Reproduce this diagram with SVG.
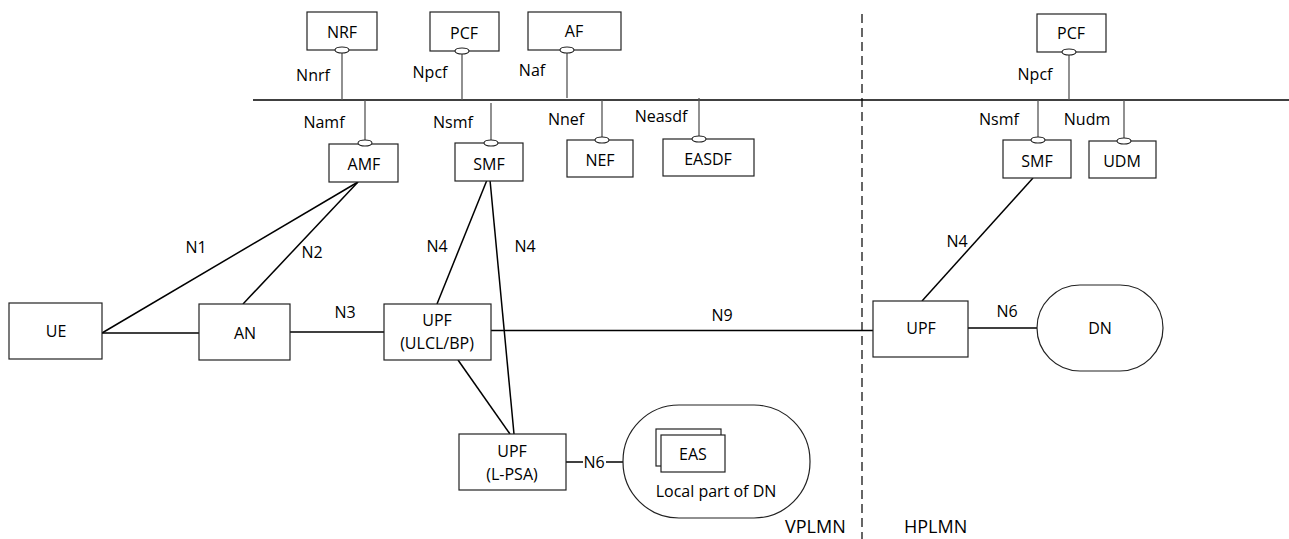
<svg xmlns="http://www.w3.org/2000/svg" width="1289" height="539" viewBox="0 0 1289 539">
<style>
text{font-family:"Open Sans","Liberation Sans",sans-serif;font-size:16px;fill:#000;text-anchor:middle}
.box{fill:#fff;stroke:#222;stroke-width:1.2}
.ln{stroke:#000;stroke-width:1.5;fill:none}
.stub{stroke:#555;stroke-width:1.3;fill:none}
.if{fill:#fff;stroke:#222;stroke-width:1.1}
.plmn{font-size:18px;text-anchor:start}
</style>
<rect width="1289" height="539" fill="#fff"/>
<g id="connectors">
<line class="ln" x1="253" y1="100" x2="1289" y2="100"/>
<line x1="862" y1="14" x2="862" y2="539" stroke="#000" stroke-width="1.2" stroke-dasharray="9 5"/>
<line class="stub" x1="342" y1="53" x2="342" y2="100"/>
<line class="stub" x1="462" y1="54" x2="462" y2="100"/>
<line class="stub" x1="567" y1="53" x2="567" y2="98"/>
<line class="stub" x1="365" y1="100" x2="365" y2="141"/>
<line class="stub" x1="491" y1="103" x2="491" y2="140"/>
<line class="stub" x1="602" y1="100" x2="602" y2="137"/>
<line class="stub" x1="699" y1="98" x2="699" y2="136"/>
<line class="stub" x1="1069" y1="55" x2="1069" y2="100"/>
<line class="stub" x1="1038" y1="100" x2="1038" y2="137"/>
<line class="stub" x1="1124" y1="100" x2="1124" y2="138"/>
<line class="ln" x1="102" y1="333" x2="199" y2="333"/>
<line class="ln" x1="102" y1="333" x2="358" y2="182"/>
<line class="ln" x1="243" y1="304" x2="358" y2="182"/>
<line class="ln" x1="290" y1="332" x2="384" y2="332"/>
<line class="ln" x1="487" y1="180" x2="437" y2="304"/>
<line class="ln" x1="490" y1="180" x2="514" y2="434"/>
<line class="ln" x1="458" y1="360" x2="510" y2="434"/>
<line class="ln" x1="491" y1="330.5" x2="873" y2="330.5"/>
<line class="ln" x1="566" y1="462" x2="583" y2="462"/>
<line class="ln" x1="606" y1="462" x2="623" y2="462"/>
<line class="ln" x1="968" y1="328" x2="1037" y2="328"/>
<line class="ln" x1="1033" y1="178" x2="922" y2="301"/>
<text x="313" y="81">Nnrf</text>
<text x="430" y="78">Npcf</text>
<text x="532" y="76">Naf</text>
<text x="324" y="128">Namf</text>
<text x="453" y="128">Nsmf</text>
<text x="566" y="125">Nnef</text>
<text x="661" y="122">Neasdf</text>
<text x="1035" y="80">Npcf</text>
<text x="999" y="125">Nsmf</text>
<text x="1087" y="125">Nudm</text>
<text x="196" y="253">N1</text>
<text x="312" y="258">N2</text>
<text x="437" y="252">N4</text>
<text x="525" y="252">N4</text>
<text x="345" y="318">N3</text>
<text x="722" y="321">N9</text>
<text x="594" y="468">N6</text>
<text x="1007" y="317">N6</text>
<text x="957" y="247">N4</text>
</g>
<g id="NRF"><rect class="box" x="307" y="12" width="70" height="38"/><text x="342" y="38">NRF</text><ellipse class="if" cx="342" cy="50" rx="7" ry="3"/></g>
<g id="PCF-V"><rect class="box" x="430" y="12" width="69" height="39"/><text x="464" y="39">PCF</text><ellipse class="if" cx="462" cy="51" rx="7" ry="3"/></g>
<g id="AF"><rect class="box" x="528" y="12" width="93" height="38"/><text x="574" y="37">AF</text><ellipse class="if" cx="567" cy="50" rx="7" ry="3"/></g>
<g id="AMF"><rect class="box" x="329" y="144" width="69" height="38"/><text x="364" y="170">AMF</text><ellipse class="if" cx="365" cy="143" rx="7" ry="3"/></g>
<g id="SMF-V"><rect class="box" x="455" y="143" width="68" height="38"/><text x="489" y="170">SMF</text><ellipse class="if" cx="491" cy="143" rx="7" ry="3"/></g>
<g id="NEF"><rect class="box" x="567" y="140" width="66" height="37"/><text x="600" y="166">NEF</text><ellipse class="if" cx="602" cy="140" rx="7" ry="3"/></g>
<g id="EASDF"><rect class="box" x="663" y="139" width="91" height="37"/><text x="708" y="165">EASDF</text><ellipse class="if" cx="699" cy="139" rx="7" ry="3"/></g>
<g id="PCF-H"><rect class="box" x="1037" y="14" width="69" height="38"/><text x="1071" y="39">PCF</text><ellipse class="if" cx="1069" cy="52" rx="7" ry="3"/></g>
<g id="SMF-H"><rect class="box" x="1003" y="140" width="68" height="38"/><text x="1037" y="167">SMF</text><ellipse class="if" cx="1038" cy="140" rx="7" ry="3"/></g>
<g id="UDM"><rect class="box" x="1089" y="141" width="67" height="37"/><text x="1122" y="167">UDM</text><ellipse class="if" cx="1124" cy="141" rx="7" ry="3"/></g>
<g id="UE"><rect class="box" x="9" y="303" width="93" height="56"/><text x="56" y="337">UE</text></g>
<g id="AN"><rect class="box" x="199" y="304" width="91" height="56"/><text x="245" y="339">AN</text></g>
<g id="UPF-ULCL"><rect class="box" x="384" y="304" width="107" height="56"/><text x="437" y="326">UPF</text><text x="437" y="349">(ULCL/BP)</text></g>
<g id="UPF-LPSA"><rect class="box" x="459" y="434" width="107" height="56"/><text x="512" y="457">UPF</text><text x="512" y="480">(L-PSA)</text></g>
<g id="LocalDN"><rect class="box" x="623" y="405" width="187" height="113" rx="56" ry="56"/>
<rect class="box" x="656" y="429" width="65" height="37"/><rect class="box" x="661" y="435" width="64" height="37"/>
<text x="693" y="460">EAS</text><text x="716" y="497">Local part of DN</text></g>
<g id="UPF-H"><rect class="box" x="873" y="301" width="95" height="56"/><text x="921" y="334">UPF</text></g>
<g id="DN"><rect class="box" x="1037" y="285" width="126" height="86" rx="43" ry="43"/><text x="1100" y="334">DN</text></g>
<g id="labels"><text class="plmn" x="785" y="533">VPLMN</text><text class="plmn" x="904" y="533">HPLMN</text></g>
</svg>
